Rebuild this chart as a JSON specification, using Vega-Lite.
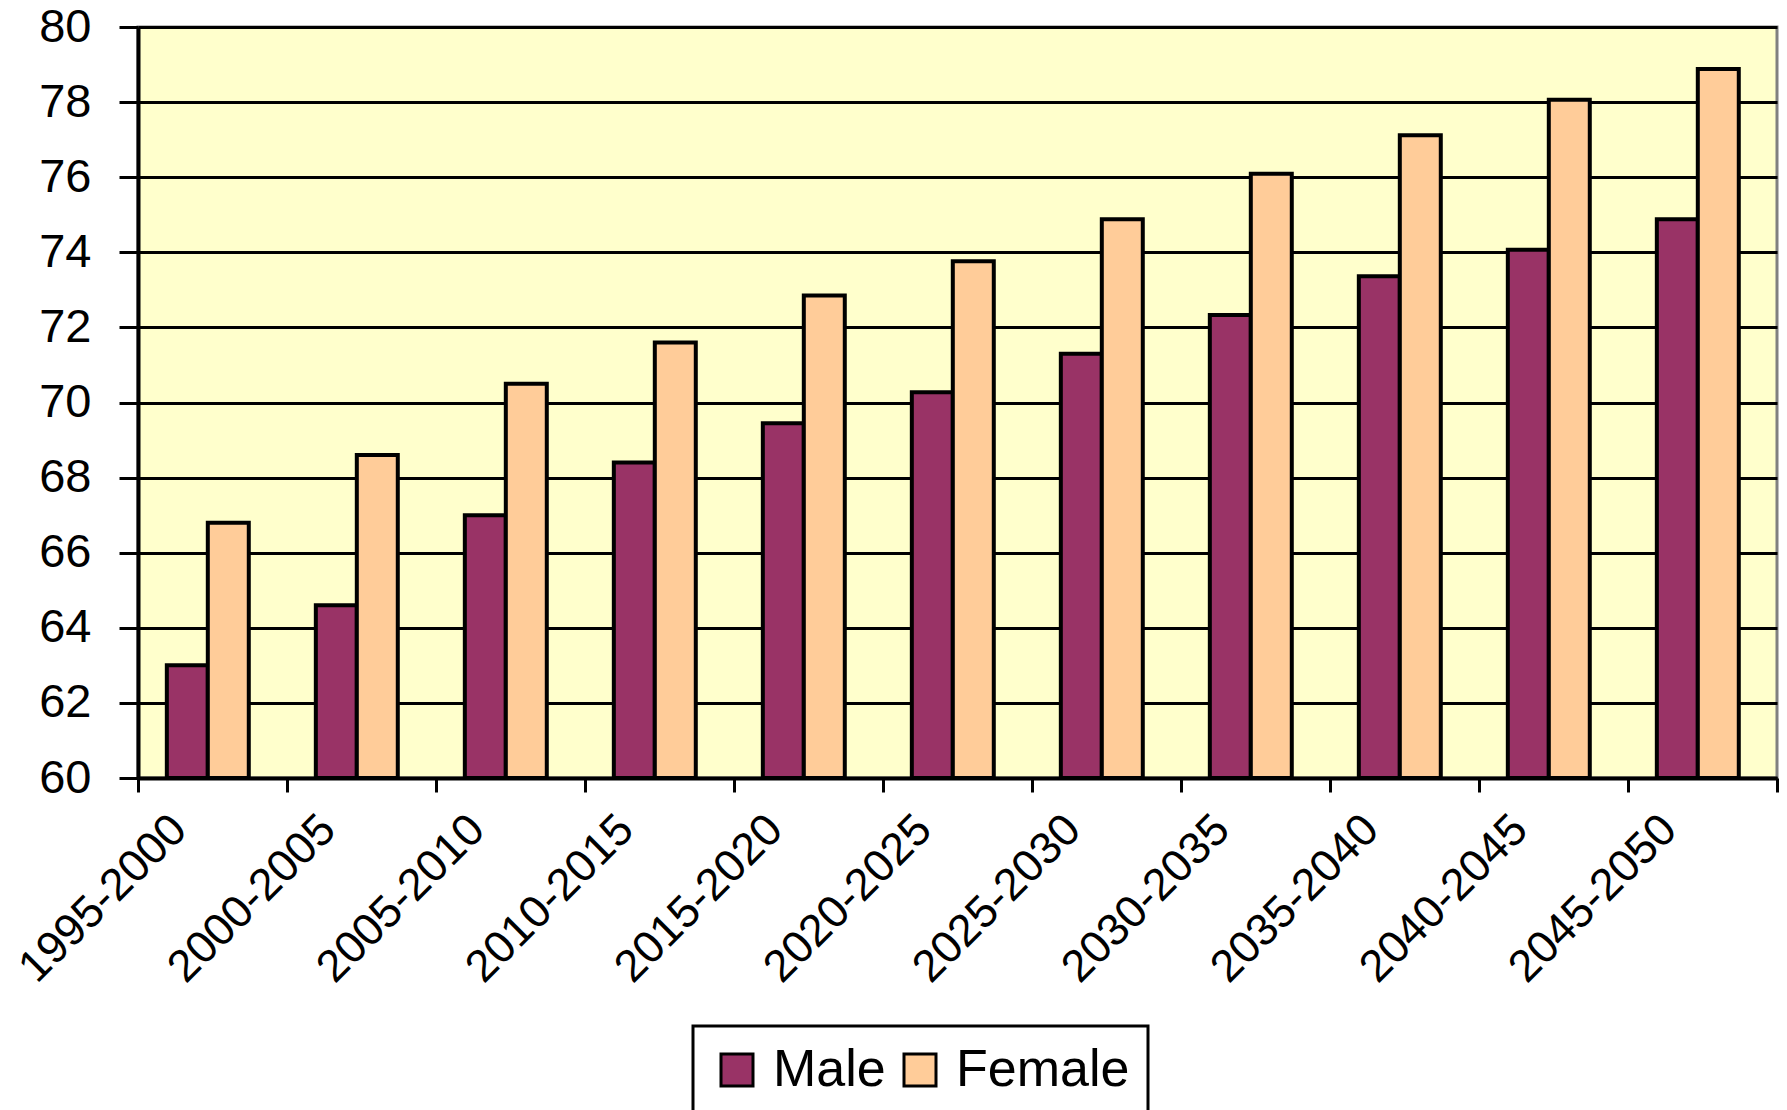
{
  "$schema": "https://vega.github.io/schema/vega-lite/v6.json",
  "width": 1639,
  "height": 751,
  "autosize": {"type": "none"},
  "padding": {"left": 138, "top": 27, "right": 10, "bottom": 332},
  "background": "white",
  "config": {
    "font": "Liberation Sans",
    "view": {"fill": "#FFFFCC", "stroke": "#808080", "strokeWidth": 3}
  },
  "data": {
    "values": [
      {"period": "1995-2000", "sex": "Male", "value": 63.0},
      {"period": "1995-2000", "sex": "Female", "value": 66.8},
      {"period": "2000-2005", "sex": "Male", "value": 64.6},
      {"period": "2000-2005", "sex": "Female", "value": 68.6},
      {"period": "2005-2010", "sex": "Male", "value": 67.0},
      {"period": "2005-2010", "sex": "Female", "value": 70.5},
      {"period": "2010-2015", "sex": "Male", "value": 68.4},
      {"period": "2010-2015", "sex": "Female", "value": 71.6},
      {"period": "2015-2020", "sex": "Male", "value": 69.45},
      {"period": "2015-2020", "sex": "Female", "value": 72.85},
      {"period": "2020-2025", "sex": "Male", "value": 70.27},
      {"period": "2020-2025", "sex": "Female", "value": 73.76},
      {"period": "2025-2030", "sex": "Male", "value": 71.3},
      {"period": "2025-2030", "sex": "Female", "value": 74.88},
      {"period": "2030-2035", "sex": "Male", "value": 72.33},
      {"period": "2030-2035", "sex": "Female", "value": 76.09},
      {"period": "2035-2040", "sex": "Male", "value": 73.36},
      {"period": "2035-2040", "sex": "Female", "value": 77.12},
      {"period": "2040-2045", "sex": "Male", "value": 74.07},
      {"period": "2040-2045", "sex": "Female", "value": 78.06},
      {"period": "2045-2050", "sex": "Male", "value": 74.88},
      {"period": "2045-2050", "sex": "Female", "value": 78.88}
    ]
  },
  "mark": {"type": "bar", "stroke": "black", "strokeWidth": 4},
  "encoding": {
    "x": {
      "field": "period",
      "type": "nominal",
      "sort": null,
      "scale": {"paddingInner": 0, "paddingOuter": 0},
      "axis": {
        "title": null,
        "grid": false,
        "tickBand": "extent",
        "domainColor": "black",
        "domainWidth": 4,
        "tickColor": "black",
        "tickWidth": 3,
        "tickSize": 14,
        "labelAngle": -45,
        "labelAlign": "right",
        "labelBaseline": "middle",
        "labelOffset": -34,
        "labelPadding": 30,
        "labelFontSize": 45,
        "labelLimit": 600,
        "labelColor": "black"
      }
    },
    "xOffset": {
      "field": "sex",
      "type": "nominal",
      "sort": ["Male", "Female"],
      "scale": {"paddingInner": 0, "paddingOuter": 0.818, "align": 0.43}
    },
    "y": {
      "field": "value",
      "type": "quantitative",
      "scale": {"domain": [60, 80], "nice": false, "zero": false},
      "axis": {
        "title": null,
        "values": [60, 62, 64, 66, 68, 70, 72, 74, 76, 78, 80],
        "grid": true,
        "gridColor": "black",
        "gridWidth": 3,
        "gridOpacity": 1,
        "domainColor": "black",
        "domainWidth": 4,
        "tickColor": "black",
        "tickWidth": 3,
        "tickSize": 19,
        "labelPadding": 28,
        "labelFontSize": 47,
        "labelColor": "black"
      }
    },
    "y2": {"datum": 60},
    "color": {
      "field": "sex",
      "type": "nominal",
      "sort": ["Male", "Female"],
      "scale": {"domain": ["Male", "Female"], "range": ["#993366", "#FFCC99"]},
      "legend": {
        "title": null,
        "orient": "none",
        "legendX": 555,
        "legendY": 999,
        "direction": "horizontal",
        "symbolType": "square",
        "symbolSize": 1024,
        "symbolStrokeColor": "black",
        "symbolStrokeWidth": 3,
        "symbolOpacity": 1,
        "labelFontSize": 52,
        "labelColor": "black",
        "labelOffset": 10,
        "labelLimit": 400,
        "columnPadding": 8,
        "padding": 18,
        "strokeColor": "black",
        "fillColor": "white",
        "encode": {"legend": {"update": {"strokeWidth": {"value": 3}}}}
      }
    }
  }
}
